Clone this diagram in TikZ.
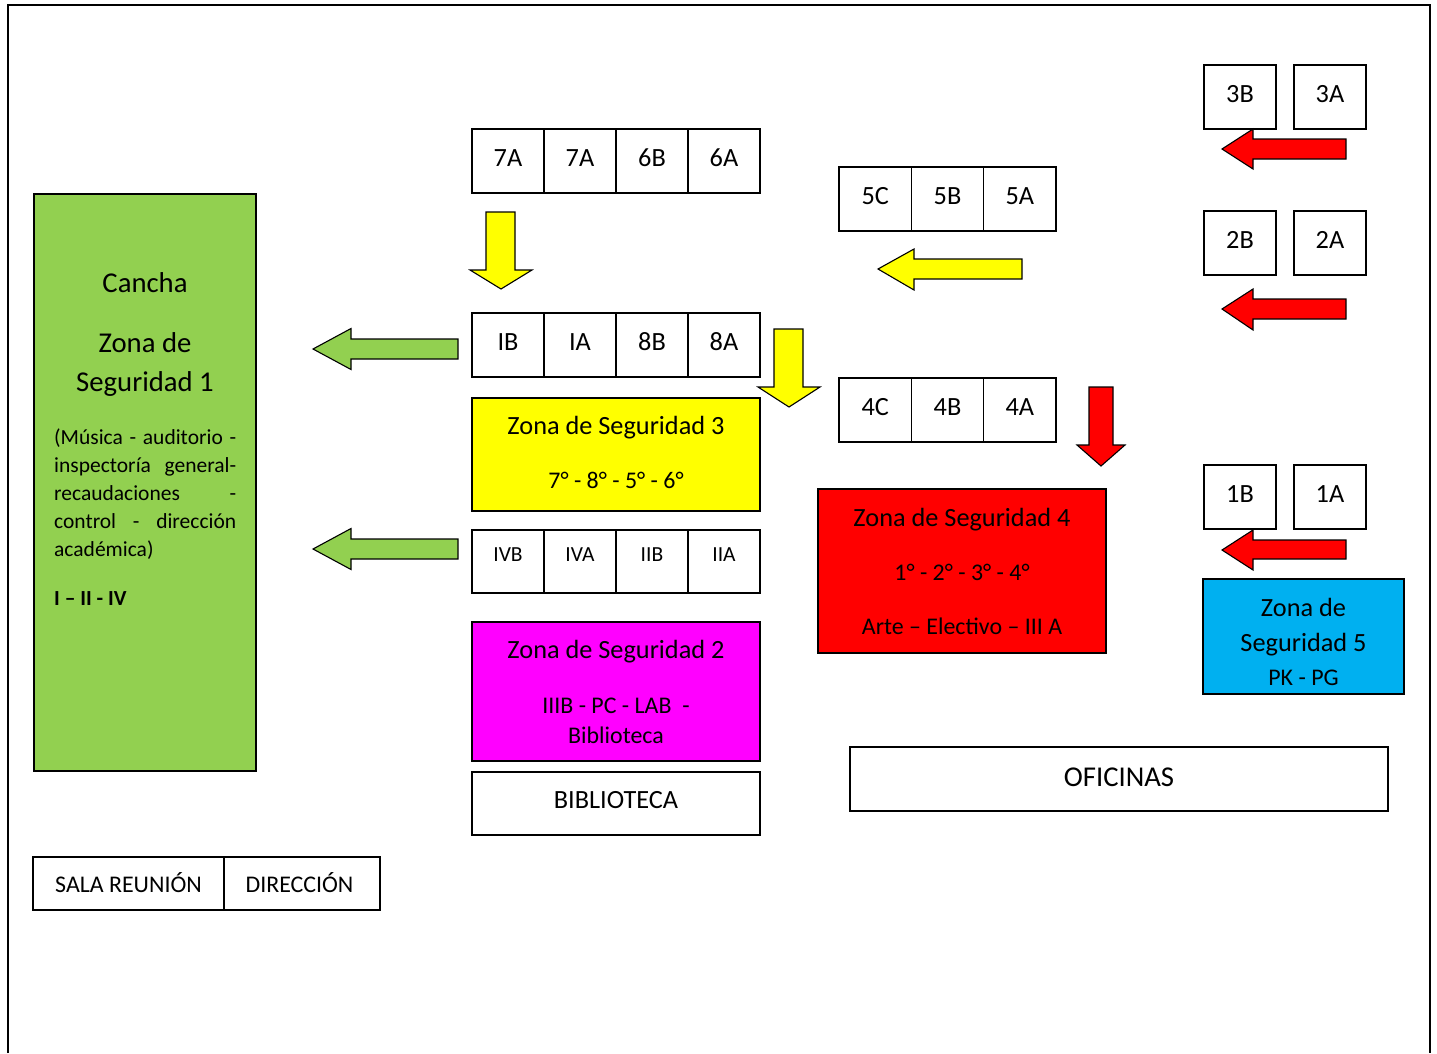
\documentclass[tikz,border=0pt]{standalone}
\usepackage{fontspec}
\setmainfont{Carlito}
\usetikzlibrary{calc}
\definecolor{zgreen}{HTML}{92D050}
\definecolor{zyellow}{HTML}{FFFF00}
\definecolor{zred}{HTML}{FF0000}
\definecolor{zmag}{HTML}{FF00FF}
\definecolor{zblue}{HTML}{00B0F0}
\newcommand\fsz[2]{\fontsize{#1pt}{#2pt}\selectfont}
\tikzset{
  box/.style={draw=black, line width=1.6pt, inner sep=0pt, outer sep=0pt},
  cell/.style={box, minimum width=72pt, minimum height=64pt, font=\fsz{26.3}{32}, text height=18pt, text depth=8pt},
  smallcell/.style={box, minimum width=72pt, minimum height=63pt, font=\fsz{21.5}{26}, text height=15pt, text depth=15pt},
  zone/.style={box, minimum width=288pt},
  txt/.style={inner sep=0pt, anchor=base},
  txtl/.style={inner sep=0pt, anchor=base west, font=\fsz{21.5}{28}},
  blockarrow/.style={draw=black, line width=1.1pt, line join=miter},
}
\begin{document}
\begin{tikzpicture}[x=1pt, y=-1pt]
\useasboundingbox (0,0) rectangle (1437,1053);
\draw[line width=2pt] (8,1053) -- (8,5) -- (1430,5) -- (1430,1053);

% Zona 1 (green)
\node[box, fill=zgreen, minimum width=222pt, minimum height=577pt] (z1) at (145,482.5) {};
\node[txt, font=\fsz{28.7}{34}] (z1a) at (145,292) {Cancha};
\node[txt, font=\fsz{28.7}{34}] (z1b) at (145,352) {Zona de};
\node[txt, font=\fsz{28.7}{34}] (z1c) at (145,391) {Seguridad 1};
\node[txtl] (g1) at (54,444) {\makebox[182pt][s]{(Música - auditorio -}};
\node[txtl] (g2) at (54,472) {\makebox[182pt][s]{inspectoría general-}};
\node[txtl] (g3) at (54,500) {\makebox[182pt][s]{recaudaciones \hfill -}};
\node[txtl] (g4) at (54,528) {\makebox[182pt][s]{control - dirección}};
\node[txtl] (g5) at (54,556) {académica)};
\node[txtl, font=\fsz{21.5}{28}\bfseries] (g6) at (54,605) {I – II - IV};

% Row 7A 7A 6B 6A
\node[cell] (r1a) at (508,161) {7A};
\node[cell] (r1b) at (580,161) {7A};
\node[cell] (r1c) at (652,161) {6B};
\node[cell] (r1d) at (724,161) {6A};
% Row IB IA 8B 8A
\node[cell] (r2a) at (508,345) {IB};
\node[cell] (r2b) at (580,345) {IA};
\node[cell] (r2c) at (652,345) {8B};
\node[cell] (r2d) at (724,345) {8A};
% Zona 3
\node[zone, fill=zyellow, minimum height=113pt] (z3) at (616,454.5) {};
\node[txt, font=\fsz{26.3}{32}] (z3a) at (616,434) {Zona de Seguridad 3};
\node[txt, font=\fsz{23.9}{29}] (z3b) at (616,488) {7° - 8° - 5° - 6°};
% Row IVB IVA IIB IIA
\node[smallcell] (r3a) at (508,561.5) {IVB};
\node[smallcell] (r3b) at (580,561.5) {IVA};
\node[smallcell] (r3c) at (652,561.5) {IIB};
\node[smallcell] (r3d) at (724,561.5) {IIA};
% Zona 2
\node[zone, fill=zmag, minimum height=139pt] (z2) at (616,691.5) {};
\node[txt, font=\fsz{26.3}{32}] (z2a) at (616,658) {Zona de Seguridad 2};
\node[txt, font=\fsz{23.9}{29}] (z2b) at (616,713) {IIIB - PC - LAB \ -};
\node[txt, font=\fsz{23.9}{29}] (z2c) at (616,743) {Biblioteca};
% Biblioteca
\node[zone, minimum height=63pt, font=\fsz{26.3}{32}, text height=19pt, text depth=10pt] (bib) at (616,803.5) {BIBLIOTECA};

% Row 5C 5B 5A
\node[cell, minimum width=72.3pt] (r5a) at (875.2,199) {5C};
\node[cell, minimum width=72.3pt] (r5b) at (947.5,199) {5B};
\node[cell, minimum width=72.3pt] (r5c) at (1019.8,199) {5A};
% Row 4C 4B 4A
\node[cell, minimum width=72.3pt] (r4a) at (875.2,410) {4C};
\node[cell, minimum width=72.3pt] (r4b) at (947.5,410) {4B};
\node[cell, minimum width=72.3pt] (r4c) at (1019.8,410) {4A};
% Zona 4
\node[zone, fill=zred, minimum height=164pt] (z4) at (962,571) {};
\node[txt, font=\fsz{26.3}{32}] (z4a) at (962,526) {Zona de Seguridad 4};
\node[txt, font=\fsz{23.9}{29}] (z4b) at (962,580) {1° - 2° - 3° - 4°};
\node[txt, font=\fsz{23.9}{29}] (z4c) at (962,634) {Arte – Electivo – III A};

% Right column
\node[cell] (r6a) at (1240,97) {3B};
\node[cell] (r6b) at (1330,97) {3A};
\node[cell] (r7a) at (1240,243) {2B};
\node[cell] (r7b) at (1330,243) {2A};
\node[cell] (r8a) at (1240,497) {1B};
\node[cell] (r8b) at (1330,497) {1A};
% Zona 5
\node[box, fill=zblue, minimum width=201pt, minimum height=115pt] (z5) at (1303.5,636.5) {};
\node[txt, font=\fsz{26.3}{32}] (z5a) at (1303.5,616) {Zona de};
\node[txt, font=\fsz{26.3}{32}] (z5b) at (1303.5,651) {Seguridad 5};
\node[txt, font=\fsz{23.9}{29}] (z5c) at (1303.5,685) {PK - PG};

% Oficinas
\node[box, minimum width=538pt, minimum height=64pt, font=\fsz{28.7}{34}, text height=20pt, text depth=6pt] (ofi) at (1119,779) {OFICINAS};
% Sala reunion / Direccion
\node[box, minimum width=191pt, minimum height=53pt, font=\fsz{23.9}{29}, text height=17pt, text depth=0pt] (sala) at (128.5,883.5) {SALA REUNIÓN};
\node[box, minimum width=156pt, minimum height=53pt, font=\fsz{23.9}{29}, text height=17pt, text depth=0pt] (dir) at (302,883.5) {\hspace*{-5pt}DIRECCIÓN};

% Block arrows (left-pointing)
\filldraw[blockarrow, fill=zgreen] (313,349) -- (351,328.5) -- (351,339) -- (458,339) -- (458,359) -- (351,359) -- (351,369.5) -- cycle;
\filldraw[blockarrow, fill=zgreen] (313,549) -- (351,528.5) -- (351,539) -- (458,539) -- (458,559) -- (351,559) -- (351,569.5) -- cycle;
\filldraw[blockarrow, fill=zyellow] (878,269) -- (914,249) -- (914,259) -- (1022,259) -- (1022,279) -- (914,279) -- (914,290) -- cycle;
\filldraw[blockarrow, fill=zred] (1222,149) -- (1253,129) -- (1253,139) -- (1346,139) -- (1346,159) -- (1253,159) -- (1253,169) -- cycle;
\filldraw[blockarrow, fill=zred] (1222,309) -- (1253,289) -- (1253,299) -- (1346,299) -- (1346,319) -- (1253,319) -- (1253,330) -- cycle;
\filldraw[blockarrow, fill=zred] (1222,550) -- (1253,530) -- (1253,540) -- (1346,540) -- (1346,559) -- (1253,559) -- (1253,570) -- cycle;
% Block arrows (down-pointing)
\filldraw[blockarrow, fill=zyellow] (501,289) -- (470,270) -- (486,270) -- (486,212) -- (515,212) -- (515,270) -- (532,270) -- cycle;
\filldraw[blockarrow, fill=zyellow] (789,407) -- (758,387) -- (774,387) -- (774,329) -- (803,329) -- (803,387) -- (820,387) -- cycle;
\filldraw[blockarrow, fill=zred] (1101,466) -- (1077,445) -- (1089,445) -- (1089,387) -- (1113,387) -- (1113,445) -- (1125,445) -- cycle;
\end{tikzpicture}
\end{document}
